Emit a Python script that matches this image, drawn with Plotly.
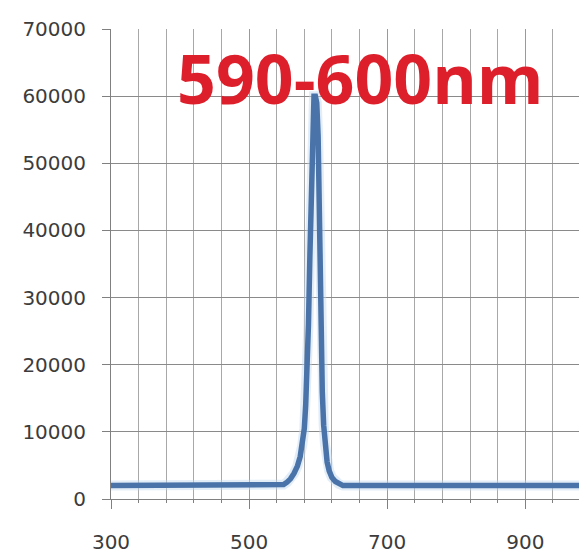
import plotly.graph_objects as go

# Spectrum data (wavelength nm, intensity)
wavelength = [300, 545, 550, 555, 560, 565, 570, 574, 577, 580, 582, 584, 586, 588, 590, 592, 594,
              596, 598, 600, 601, 602, 604, 606, 608, 610, 613, 616, 620, 625, 630, 636, 1001]
intensity = [2000, 2000, 2150, 2500, 3000, 3800, 4900, 6300, 8000, 10500, 14000, 19000, 26000, 36000,
             47000, 56000, 60000, 60000, 59000, 54000, 46000, 37000, 24000, 16000, 11000, 8000, 5500,
             4200, 3200, 2600, 2250, 2000, 2000]

x_tick_vals = [300, 500, 700, 900]
x_tick_text = ["300", "500", "700", "900"]
y_tick_vals = [0, 10000, 20000, 30000, 40000, 50000, 60000, 70000]
y_tick_text = ["0", "10000", "20000", "30000", "40000", "50000", "60000", "70000"]
label_text = "590-600nm"

fig = go.Figure()
# soft halo under the line
fig.add_trace(go.Scatter(x=wavelength, y=intensity, mode="lines",
                         line=dict(color="rgba(190,215,240,0.45)", width=10),
                         hoverinfo="skip", showlegend=False))
fig.add_trace(go.Scatter(x=wavelength, y=intensity, mode="lines",
                         line=dict(color="#4a74a9", width=5.5),
                         showlegend=False))

fig.add_annotation(x=661, y=62850, xref="x", yref="y", text="<b>" + label_text + "</b>",
                   showarrow=False, font=dict(family="Open Sans", size=68, color="#dd1f2b"),
                   xanchor="center", yanchor="middle")

fig.update_layout(
    template="none",
    width=587, height=554,
    margin=dict(l=103, r=0, t=21, b=63, pad=0),
    paper_bgcolor="white", plot_bgcolor="white",
    font=dict(family="DejaVu Sans", size=20, color="#3c3c3c"),
    xaxis=dict(range=[300, 1001], tickvals=x_tick_vals, ticktext=x_tick_text,
               showgrid=True, gridcolor="#9a9a9a", gridwidth=1,
               ticks="outside", ticklen=9, tickcolor="#808080",
               showline=True, linecolor="#808080", linewidth=1,
               zeroline=False, ticklabelstandoff=16, automargin=False,
               minor=dict(dtick=40, tick0=300, showgrid=True, gridcolor="#a8a8a8",
                          ticks="outside", ticklen=3, tickcolor="#808080")),
    yaxis=dict(range=[0, 70000], tickvals=y_tick_vals, ticktext=y_tick_text,
               showgrid=True, gridcolor="#8a8a8a", gridwidth=1,
               ticks="outside", ticklen=8, tickcolor="#808080",
               showline=True, linecolor="#808080", linewidth=1,
               zeroline=False, ticklabelstandoff=12, automargin=False),
)

fig.write_html("out.html")
